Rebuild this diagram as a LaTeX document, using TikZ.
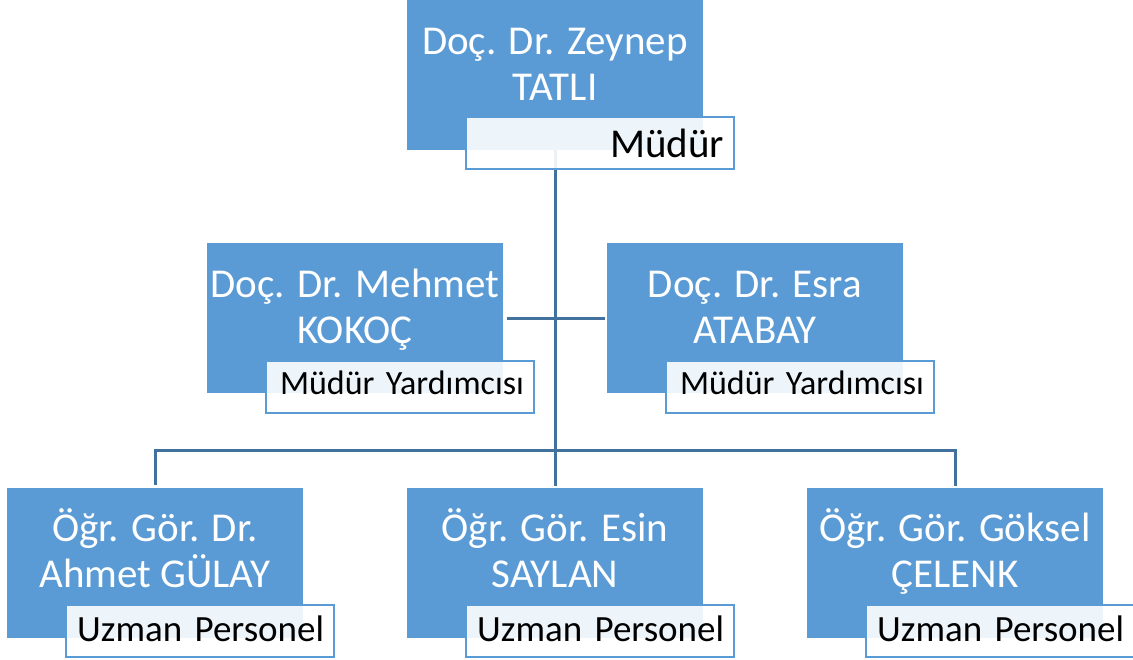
\documentclass[tikz,border=0pt]{standalone}
\usepackage{fontspec}
\setmainfont{Carlito}
\usetikzlibrary{calc}
\definecolor{boxblue}{HTML}{5B9BD5}
\definecolor{connblue}{HTML}{41719C}
\tikzset{
  namebox/.style={fill=boxblue, draw=none, minimum width=296pt, inner sep=0pt,
    text=white, align=center, text height=100pt, text depth=50pt,
    font=\fontsize{41}{46}\selectfont},
  rolebox/.style={fill=white, fill opacity=0.9, text opacity=1, draw=boxblue, line width=2pt,
    minimum width=268pt, inner xsep=10pt, inner ysep=0pt, text width=248pt, align=right, text=black},
  roletop/.style={rolebox, text height=40pt, text depth=12pt, font=\fontsize{41}{46}\selectfont},
  rolemid/.style={rolebox, text height=33pt, text depth=19pt, font=\fontsize{34}{40}\selectfont},
  rolebot/.style={rolebox, text height=37pt, text depth=15pt, font=\fontsize{37}{42}\selectfont},
  conn/.style={draw=connblue, line width=3pt}
}
\begin{document}
\begin{tikzpicture}[x=1pt,y=-1pt]
\useasboundingbox (0,0) rectangle (1133,659);
% name boxes
\node[namebox] (t) at (555,75) {Doç. Dr. Zeynep\\TATLI};
\node[namebox] (ml) at (355,318) {Doç. Dr. Mehmet\\KOKOÇ};
\node[namebox] (mr) at (755,318) {Doç. Dr. Esra\\ATABAY};
\node[namebox] (bl) at (155,562.5) {Öğr. Gör. Dr.\\Ahmet GÜLAY};
\node[namebox] (bm) at (555,562.5) {Öğr. Gör. Esin\\SAYLAN};
\node[namebox] (br) at (955,562.5) {Öğr. Gör. Göksel\\ÇELENK};
% connectors
\coordinate (j) at (555,450);
\draw[conn] (t.south) -- (j);
\draw[conn, shorten <=4pt, shorten >=2pt] (ml.east) -- (mr.west);
\draw[conn, shorten >=2pt] (j) -| (bl.north);
\draw[conn, shorten >=1pt] (j) -- (bm.north);
\draw[conn, shorten >=1pt] (j) -| (br.north);
% role boxes
\node[roletop] (tr) at ($(t.south)+(45,-7)$) {Müdür};
\node[rolemid] (mlr) at ($(ml.south)+(45,-6)$) {Müdür Yardımcısı};
\node[rolemid] (mrr) at ($(mr.south)+(45,-6)$) {Müdür Yardımcısı};
\node[rolebot] (blr) at ($(bl.south)+(45,-7)$) {Uzman Personel};
\node[rolebot] (bmr) at ($(bm.south)+(45,-7)$) {Uzman Personel};
\node[rolebot] (brr) at ($(br.south)+(45,-7)$) {Uzman Personel};
\end{tikzpicture}
\end{document}
